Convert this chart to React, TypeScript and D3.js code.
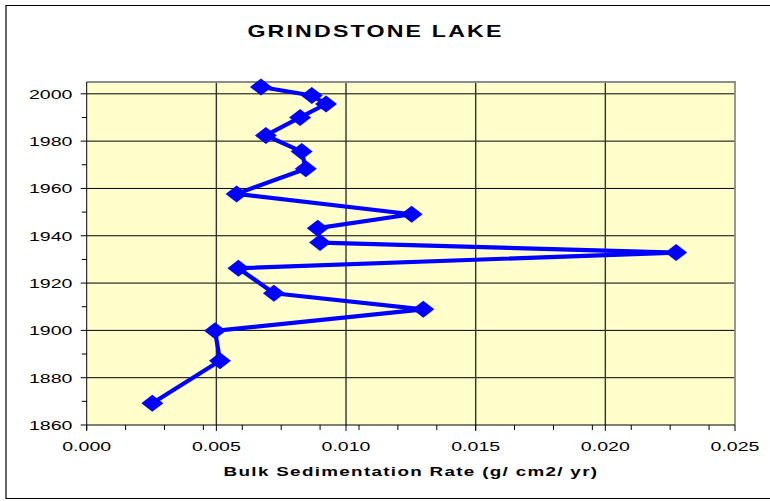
import React from 'react';
import * as d3 from 'd3';

// Data (year of sediment layer vs bulk sedimentation rate)
const years = [2002.9, 1999.3, 1995.7, 1990.0, 1982.4, 1975.6, 1968.3, 1957.7, 1949.1, 1943.2, 1937.1, 1932.9, 1926.3, 1915.7, 1908.9, 1899.8, 1887.2, 1869.2];
const rates = [0.00672, 0.00868, 0.00923, 0.00823, 0.00691, 0.00829, 0.00845, 0.00578, 0.01253, 0.00891, 0.0090, 0.02273, 0.00585, 0.00722, 0.01298, 0.00495, 0.00514, 0.00253];

const yearTicks = [1860, 1880, 1900, 1920, 1940, 1960, 1980, 2000];
const yearMinor = [1870, 1890, 1910, 1930, 1950, 1970, 1990];
const rateTicks = [0, 0.005, 0.01, 0.015, 0.02, 0.025];

const title = 'GRINDSTONE LAKE';
const xTitle = 'Bulk Sedimentation Rate (g/ cm2/ yr)';

const W = 770;
const H = 501;
const plot = { left: 86.7, right: 735, top: 82, bottom: 425 };
const stretch = 1.45; // the original image text is stretched horizontally
const font = "Arial, 'Liberation Sans', sans-serif";

function App() {
    const x = d3.scaleLinear().domain([0, 0.025]).range([plot.left, plot.right]);
    const y = d3.scaleLinear().domain([1860, 2005]).range([plot.bottom, plot.top]);

    const rateMinor = d3.range(0, 0.0245, 0.0015);
    const pts = years.map((yr, i) => [x(rates[i]), y(yr)] as [number, number]);
    const line = d3.line()(pts) ?? '';
    const diamond = 'M0,-8.5L11,0L0,8.5L-11,0Z';

    return (
        <svg width={W} height={H} style={{ position: 'absolute', left: 0, top: 0 }} fontFamily={font}>
            <rect x={0} y={0} width={W} height={H} fill="#fff" />
            {/* outer chart frame, open on the right */}
            <path d={`M${W},5.5H6V498.5H${W}`} fill="none" stroke="#000" strokeWidth={1.2} />

            <text transform={`translate(375.5,37) scale(${stretch},1)`} textAnchor="middle" fontSize={16}
                fontWeight="bold" letterSpacing={1.5}>{title}</text>

            {/* plot area */}
            <rect x={plot.left} y={plot.top} width={plot.right - plot.left} height={plot.bottom - plot.top} fill="#ffffcc" />

            {yearTicks.slice(1).map((t) => (
                <line key={'gy' + t} x1={plot.left} x2={plot.right} y1={y(t)} y2={y(t)} stroke="#000" strokeWidth={1} />
            ))}
            {rateTicks.slice(1, -1).map((t) => (
                <line key={'gx' + t} x1={x(t)} x2={x(t)} y1={plot.top} y2={plot.bottom} stroke="#333" strokeWidth={1.4} />
            ))}

            <path d={`M${plot.left},${plot.top}H${plot.right}V${plot.bottom}`} fill="none" stroke="#8c8c8c" strokeWidth={1.8} />

            {/* axes */}
            <line x1={plot.left} x2={plot.left} y1={plot.top} y2={plot.bottom} stroke="#000" strokeWidth={1} />
            <line x1={plot.left} x2={plot.right} y1={plot.bottom} y2={plot.bottom} stroke="#000" strokeWidth={1} />

            {yearTicks.map((t) => (
                <g key={'ty' + t}>
                    <line x1={plot.left - 6} x2={plot.left} y1={y(t)} y2={y(t)} stroke="#000" />
                    <text transform={`translate(72.5,${y(t) + 4.9}) scale(${stretch},1)`} textAnchor="end" fontSize={13.5}>{t}</text>
                </g>
            ))}
            {yearMinor.map((t) => (
                <line key={'my' + t} x1={plot.left - 5} x2={plot.left} y1={y(t)} y2={y(t)} stroke="#000" />
            ))}

            {rateTicks.map((t) => (
                <g key={'tx' + t}>
                    <line x1={x(t)} x2={x(t)} y1={plot.bottom} y2={plot.bottom + 6} stroke="#000" />
                    <text transform={`translate(${x(t)},451) scale(${stretch},1)`} textAnchor="middle" fontSize={13.5}>{d3.format('.3f')(t)}</text>
                </g>
            ))}
            {rateMinor.map((t) => (
                <line key={'mx' + t} x1={x(t)} x2={x(t)} y1={plot.bottom} y2={plot.bottom + 5} stroke="#000" />
            ))}

            <text transform={`translate(411,476) scale(${stretch},1)`} textAnchor="middle" fontSize={13}
                fontWeight="bold" letterSpacing={0.9}>{xTitle}</text>

            {/* series */}
            <path d={line} fill="none" stroke="#0000ff" strokeWidth={4.2} strokeLinejoin="round" />
            {pts.map(([px, py], i) => (
                <path key={'m' + i} d={diamond} transform={`translate(${px},${py})`} fill="#0000ff" />
            ))}
        </svg>
    );
}

export default App;
